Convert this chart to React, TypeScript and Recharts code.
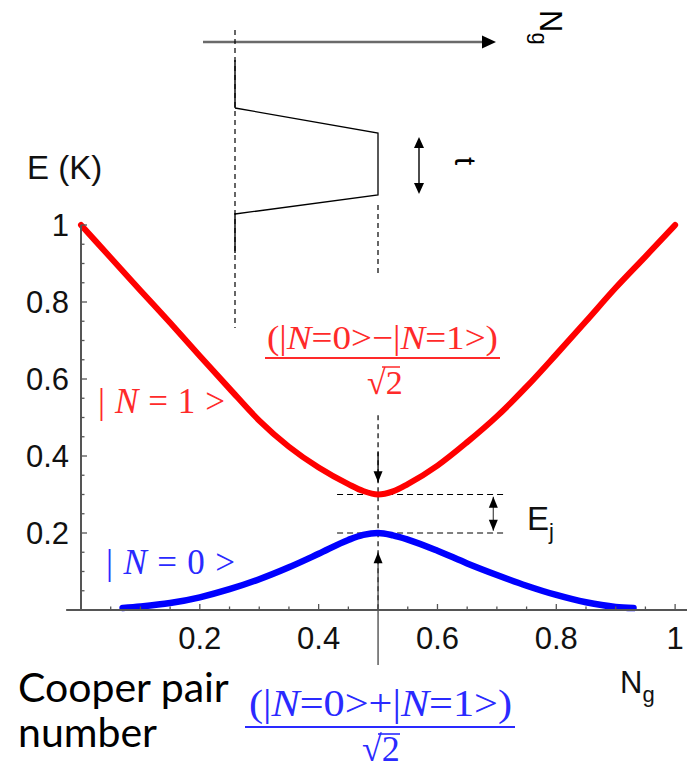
import { LineChart, Line, XAxis, YAxis, ReferenceLine } from "recharts";

// ── Charge-qubit energy levels vs gate charge ───────────────────────
// Upper (red) and lower (blue) bands.

const redNg = [0, 0.05, 0.1, 0.15, 0.2, 0.25, 0.3, 0.35, 0.4, 0.45, 0.475, 0.5, 0.525, 0.55, 0.6, 0.65, 0.7, 0.75, 0.8, 0.85, 0.9, 0.95, 1];
const redE = [1.0, 0.915, 0.83, 0.746, 0.66, 0.575, 0.492, 0.424, 0.37, 0.327, 0.309, 0.3, 0.308, 0.327, 0.375, 0.436, 0.503, 0.58, 0.664, 0.75, 0.837, 0.918, 1.0];

const blueNg = [0.07, 0.1, 0.15, 0.2, 0.25, 0.3, 0.35, 0.4, 0.45, 0.475, 0.5, 0.525, 0.55, 0.6, 0.65, 0.7, 0.75, 0.8, 0.85, 0.9, 0.93];
const blueE = [0.005, 0.009, 0.018, 0.033, 0.054, 0.08, 0.111, 0.146, 0.182, 0.195, 0.2, 0.194, 0.183, 0.154, 0.121, 0.091, 0.063, 0.039, 0.02, 0.008, 0.005];

const xTicks = [0.05, 0.1, 0.15, 0.2, 0.25, 0.3, 0.35, 0.4, 0.45, 0.5, 0.55, 0.6, 0.65, 0.7, 0.75, 0.8, 0.85, 0.9, 0.95, 1];
const yTicks = [0.05, 0.1, 0.15, 0.2, 0.25, 0.3, 0.35, 0.4, 0.45, 0.5, 0.55, 0.6, 0.65, 0.7, 0.75, 0.8, 0.85, 0.9, 0.95, 1];
const majorTicks = [0.2, 0.4, 0.6, 0.8, 1];
const majorLabels = ["0.2", "0.4", "0.6", "0.8", "1"];

// gap markers (data coords)
const levelTop = 0.3;
const levelBottom = 0.2;
const gapX = [0.431, 0.714];
const ejArrowX = 0.694;

const W = 687;
const H = 768;
const AXIS = "#555";
const RED = "#ff0000";
const BLUE = "#0000ff";
const TXT_RED = "#ff2a2a";
const TXT_BLUE = "#2a2aff";
const SANS = "'Liberation Sans', Arial, sans-serif";
const SERIF = "'Liberation Serif', 'Times New Roman', serif";
const HUMAN = "Lato, 'Open Sans', sans-serif";

const redData = redNg.map((ng, i) => ({ ng, e: redE[i] }));
const blueData = blueNg.map((ng, i) => ({ ng, e: blueE[i] }));

function XTick({ x, y, payload }: any) {
  const i = majorTicks.indexOf(payload.value);
  return (
    <g>
      <line x1={x} x2={x} y1={y} y2={y - (i >= 0 ? 6 : 3.5)} stroke={AXIS} strokeWidth={1.3} />
      {i >= 0 ? (
        <text x={x} y={y + 39} textAnchor="middle" fontSize={31} fontFamily={SANS} fill="#111">
          {majorLabels[i]}
        </text>
      ) : null}
    </g>
  );
}

function YTick({ x, y, payload }: any) {
  const i = majorTicks.indexOf(payload.value);
  return (
    <g>
      <line x1={x} x2={x + (i >= 0 ? 6 : 3.5)} y1={y} y2={y} stroke={AXIS} strokeWidth={1.3} />
      {i >= 0 ? (
        <text x={x - 12} y={y + 11} textAnchor="end" fontSize={31} fontFamily={SANS} fill="#111">
          {majorLabels[i]}
        </text>
      ) : null}
    </g>
  );
}

// line with arrow head(s) for ReferenceLine shape
function arrowShape(double: boolean, color: string) {
  return (p: any) => {
    const { x1, y1, x2, y2 } = p;
    const dx = x2 - x1;
    const dy = y2 - y1;
    const len = Math.hypot(dx, dy) || 1;
    const ux = dx / len;
    const uy = dy / len;
    const head = (tx: number, ty: number, sx: number, sy: number) => {
      const bx = tx - sx * 11;
      const by = ty - sy * 11;
      return `${tx},${ty} ${bx - sy * 4.5},${by + sx * 4.5} ${bx + sy * 4.5},${by - sx * 4.5}`;
    };
    return (
      <g>
        <line x1={x1} y1={y1} x2={x2} y2={y2} stroke={color} strokeWidth={1.3} />
        <polygon points={head(x2, y2, ux, uy)} fill="#000" />
        {double ? <polygon points={head(x1, y1, -ux, -uy)} fill="#000" /> : null}
      </g>
    );
  };
}

function Ket({ n, spaced }: { n: string; spaced?: boolean }) {
  const s = spaced ? " " : "";
  return (
    <>
      <tspan>|{s}</tspan>
      <tspan fontStyle="italic">N</tspan>
      <tspan>{s}={s}{n}{s}&gt;</tspan>
    </>
  );
}

function Overlay() {
  return (
    <svg width={W} height={H} style={{ position: "absolute", left: 0, top: 0, pointerEvents: "none" }}>
      {/* inset: gate-charge sketch */}
      <line x1={203} y1={42} x2={484} y2={42} stroke="#6a6a6a" strokeWidth={2.5} />
      <polygon points="482,35.5 496,42 482,48.5" fill="#000" />
      <line x1={235} y1={30} x2={235} y2={328} stroke="#000" strokeWidth={1.2} strokeDasharray="5 4" />
      <line x1={235} y1={60} x2={235} y2={108} stroke="#000" strokeWidth={1.4} />
      <line x1={235} y1={213} x2={235} y2={253} stroke="#000" strokeWidth={1.4} />
      <polyline points="235,108 378,133 378,195 235,214" fill="none" stroke="#000" strokeWidth={1.3} />
      <line x1={378} y1={205} x2={378} y2={276} stroke="#000" strokeWidth={1.2} strokeDasharray="5 4" />
      <line x1={419} y1={142} x2={419} y2={189} stroke="#000" strokeWidth={1.4} />
      <polygon points="419,137 414,148 424,148" fill="#000" />
      <polygon points="419,194 414,183 424,183" fill="#000" />
      <g transform="translate(455,157) rotate(90)">
        <text fontSize={30} fontFamily={SANS} fill="#000">t</text>
      </g>
      <g transform="translate(540,10) rotate(90)">
        <text fontSize={31} fontFamily={SANS} fill="#000">
          N<tspan fontSize={22} dy={8}>g</tspan>
        </text>
      </g>

      {/* axis titles */}
      <text x={27} y={179} fontSize={33} fontFamily={SANS} fill="#111">E (K)</text>
      <text x={620} y={693} fontSize={31} fontFamily={SANS} fill="#111">
        N<tspan fontSize={22} dy={9}>g</tspan>
      </text>
      <text x={18} y={702} fontSize={41} fontFamily={HUMAN} fill="#000">Cooper pair</text>
      <text x={18} y={747} fontSize={41} fontFamily={HUMAN} fill="#000">number</text>

      {/* state labels */}
      <text x={98} y={413} fontSize={35} fontFamily={SERIF} fill={TXT_RED} textLength={127} lengthAdjust="spacing">
        <Ket n="1" spaced />
      </text>
      <text x={106} y={574} fontSize={35} fontFamily={SERIF} fill={TXT_BLUE} textLength={129} lengthAdjust="spacing">
        <Ket n="0" spaced />
      </text>

      {/* antisymmetric combination */}
      <text x={267} y={349} fontSize={34} fontFamily={SERIF} fill={TXT_RED} textLength={231} lengthAdjust="spacingAndGlyphs">
        (<Ket n="0" />−<Ket n="1" />)
      </text>
      <line x1={265} y1={358} x2={500} y2={358} stroke={TXT_RED} strokeWidth={2} />
      <text x={367} y={394} fontSize={34} fontFamily={SERIF} fill={TXT_RED}>√2</text>
      <line x1={382} y1={367} x2={400} y2={367} stroke={TXT_RED} strokeWidth={1.5} />

      {/* symmetric combination */}
      <text x={249} y={716} fontSize={37} fontFamily={SERIF} fill={TXT_BLUE} textLength={263} lengthAdjust="spacingAndGlyphs">
        (<Ket n="0" />+<Ket n="1" />)
      </text>
      <line x1={245} y1={727} x2={515} y2={727} stroke={TXT_BLUE} strokeWidth={2.2} />
      <text x={362} y={761} fontSize={36} fontFamily={SERIF} fill={TXT_BLUE}>√2</text>
      <line x1={378} y1={734} x2={400} y2={734} stroke={TXT_BLUE} strokeWidth={1.6} />

      <text x={527} y={530} fontSize={33} fontFamily={SANS} fill="#111">
        E<tspan fontSize={22} dy={9}>j</tspan>
      </text>
    </svg>
  );
}

export default function App() {
  return (
    <div style={{ position: "absolute", left: 0, top: 0, width: W, height: H, background: "#fff" }}>
      <LineChart width={W} height={H} margin={{ top: 225, right: 0, bottom: 118, left: 21 }}>
        <XAxis
          type="number"
          dataKey="ng"
          domain={[0, 1.02]}
          ticks={xTicks}
          interval={0}
          height={40}
          tickSize={0}
          tickMargin={0}
          tickLine={false}
          axisLine={{ stroke: AXIS, strokeWidth: 2 }}
          tick={<XTick />}
        />
        <YAxis
          type="number"
          dataKey="e"
          domain={[0, 1]}
          ticks={yTicks}
          interval={0}
          width={60}
          tickSize={0}
          tickMargin={0}
          tickLine={false}
          axisLine={{ stroke: AXIS, strokeWidth: 2 }}
          tick={<YTick />}
        />

        {/* x-axis stub left of origin */}
        <ReferenceLine segment={[{ x: -0.025, y: 0 }, { x: 0, y: 0 }]} stroke={AXIS} strokeWidth={2} ifOverflow="visible" />

        {/* degeneracy point guides */}
        <ReferenceLine segment={[{ x: 0.5, y: 0.506 }, { x: 0.5, y: 0 }]} stroke="#000" strokeWidth={1.2} strokeDasharray="5 4" ifOverflow="visible" />
        <ReferenceLine segment={[{ x: gapX[0], y: levelTop }, { x: gapX[1], y: levelTop }]} stroke="#000" strokeWidth={1.2} strokeDasharray="6 4" ifOverflow="visible" />
        <ReferenceLine segment={[{ x: gapX[0], y: levelBottom }, { x: gapX[1], y: levelBottom }]} stroke="#000" strokeWidth={1.2} strokeDasharray="6 4" ifOverflow="visible" />
        <ReferenceLine segment={[{ x: 0.5, y: 0.41 }, { x: 0.5, y: 0.332 }]} stroke="#000" ifOverflow="visible" shape={arrowShape(false, "#000")} />
        <ReferenceLine segment={[{ x: 0.5, y: -0.143 }, { x: 0.5, y: 0.15 }]} stroke="#444" ifOverflow="visible" shape={arrowShape(false, "#444")} />
        <ReferenceLine segment={[{ x: ejArrowX, y: 0.206 }, { x: ejArrowX, y: 0.294 }]} stroke="#000" ifOverflow="visible" shape={arrowShape(true, "#555")} />

        <Line data={redData} dataKey="e" type="monotone" stroke={RED} strokeWidth={6} strokeLinecap="round" dot={false} activeDot={false} isAnimationActive={false} />
        <Line data={blueData} dataKey="e" type="monotone" stroke={BLUE} strokeWidth={6.5} strokeLinecap="round" dot={false} activeDot={false} isAnimationActive={false} />
      </LineChart>
      <Overlay />
    </div>
  );
}
